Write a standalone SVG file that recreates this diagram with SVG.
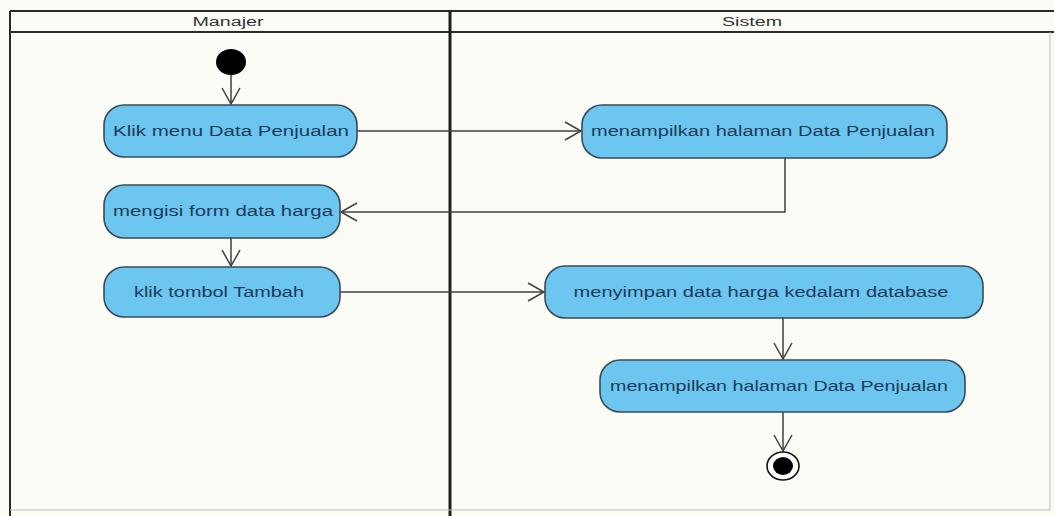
<svg xmlns="http://www.w3.org/2000/svg" width="1054" height="516" viewBox="0 0 1054 516">
<style>
.bg{fill:#fcfcf7}
.frame{fill:none;stroke:#2a2a2a;stroke-width:2}
.lane{fill:none;stroke:#1e1e1e;stroke-width:3}
.hdr{font-family:"Liberation Sans",Arial,sans-serif;font-size:12px;fill:#333;text-anchor:middle}
.act{fill:#6cc6f0;stroke:#3a4a55;stroke-width:1.6}
.lbl{font-family:"Liberation Sans",Arial,sans-serif;font-size:14px;fill:#1d3b57;text-anchor:middle}
.edge{fill:none;stroke:#404040;stroke-width:1.5}
.start{fill:#000}
</style>
<defs>
<marker id="open" viewBox="0 0 20 20" refX="18" refY="10" markerWidth="20" markerHeight="20" markerUnits="userSpaceOnUse" orient="auto">
<path d="M2,1 L18,10 L2,19" fill="none" stroke="#404040" stroke-width="1.5"/>
</marker>
</defs>
<rect class="bg" x="0" y="0" width="1054" height="516"/>
<g id="frame">
<line class="frame" x1="10" y1="11" x2="1054" y2="11"/>
<line class="frame" x1="10" y1="32" x2="1054" y2="32"/>
<line class="frame" x1="10" y1="11" x2="10" y2="516"/>
<line class="lane" x1="450" y1="11" x2="450" y2="516"/>
<line x1="10" y1="510" x2="1050" y2="510" stroke="#bbb" stroke-width="1"/>
<line x1="1050" y1="32" x2="1050" y2="510" stroke="#bbb" stroke-width="1"/>
<text class="hdr" x="228" y="26" textLength="71" lengthAdjust="spacingAndGlyphs">Manajer</text>
<text class="hdr" x="752" y="26" textLength="60" lengthAdjust="spacingAndGlyphs">Sistem</text>
</g>
<g id="connectors">
<line class="edge" x1="231" y1="75" x2="231" y2="104" marker-end="url(#open)"/>
<line class="edge" x1="357" y1="131" x2="581" y2="131" marker-end="url(#open)"/>
<polyline class="edge" points="785,158 785,212 341,212" marker-end="url(#open)"/>
<line class="edge" x1="231" y1="238" x2="231" y2="266" marker-end="url(#open)"/>
<line class="edge" x1="340" y1="292" x2="544" y2="292" marker-end="url(#open)"/>
<line class="edge" x1="783" y1="318" x2="783" y2="359" marker-end="url(#open)"/>
<line class="edge" x1="783" y1="412" x2="783" y2="451" marker-end="url(#open)"/>
</g>
<g id="start"><ellipse class="start" cx="231" cy="62" rx="15" ry="13"/></g>
<g id="n1"><rect class="act" x="104" y="105" width="253" height="52" rx="20"/><text class="lbl" x="231" y="136" textLength="236" lengthAdjust="spacingAndGlyphs">Klik menu Data Penjualan</text></g>
<g id="n2"><rect class="act" x="582" y="105" width="365" height="53" rx="20"/><text class="lbl" x="763" y="136" textLength="344" lengthAdjust="spacingAndGlyphs">menampilkan halaman Data Penjualan</text></g>
<g id="n3"><rect class="act" x="104" y="185" width="236" height="53" rx="20"/><text class="lbl" x="223" y="216" textLength="220" lengthAdjust="spacingAndGlyphs">mengisi form data harga</text></g>
<g id="n4"><rect class="act" x="104" y="267" width="236" height="50" rx="20"/><text class="lbl" x="219" y="297" textLength="170" lengthAdjust="spacingAndGlyphs">klik tombol Tambah</text></g>
<g id="n5"><rect class="act" x="545" y="266" width="438" height="52" rx="20"/><text class="lbl" x="761" y="297" textLength="375" lengthAdjust="spacingAndGlyphs">menyimpan data harga kedalam database</text></g>
<g id="n6"><rect class="act" x="600" y="360" width="365" height="52" rx="20"/><text class="lbl" x="779" y="391" textLength="338" lengthAdjust="spacingAndGlyphs">menampilkan halaman Data Penjualan</text></g>
<g id="end"><ellipse cx="783" cy="466" rx="16" ry="14" fill="#fff" stroke="#111" stroke-width="1.6"/><ellipse cx="783" cy="466" rx="10" ry="9" fill="#000"/></g>
</svg>
